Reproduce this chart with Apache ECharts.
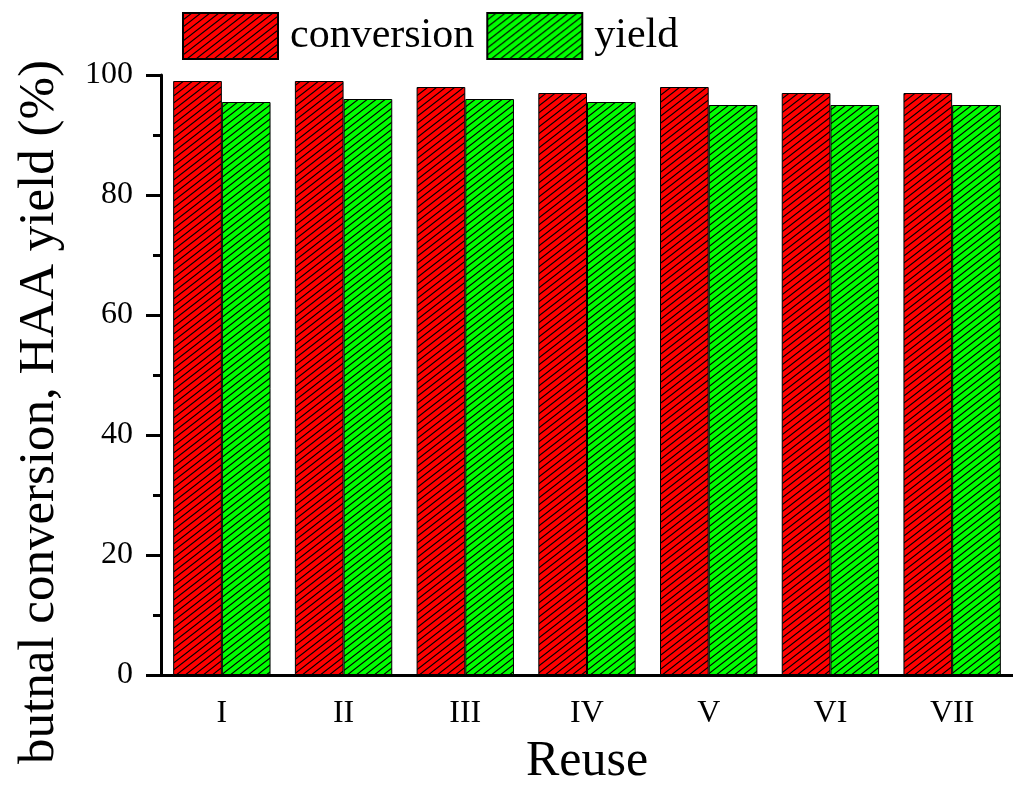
<!DOCTYPE html>
<html>
<head>
<meta charset="utf-8">
<style>
html,body{margin:0;padding:0;background:#fff;}
#chart{width:1013px;height:792px;}
</style>
<script src="https://cdn.jsdelivr.net/npm/echarts@6/dist/echarts.min.js"></script>
</head>
<body>
<div id="chart"></div>
<script>
const categories = ['I', 'II', 'III', 'IV', 'V', 'VI', 'VII'];
const conversion = [99, 99, 98, 97, 98, 97, 97];
const yieldVals = [95.5, 96, 96, 95.5, 95, 95, 95];
const seriesNames = ['conversion', 'yield'];

function hatch(color) {
  const w = 9, h = 7;
  const c = document.createElement('canvas');
  c.width = w; c.height = h;
  const ctx = c.getContext('2d');
  ctx.fillStyle = color;
  ctx.fillRect(0, 0, w, h);
  ctx.strokeStyle = '#000';
  ctx.lineWidth = 1.1;
  ctx.beginPath();
  ctx.moveTo(-w, 2 * h); ctx.lineTo(2 * w, -h);
  ctx.moveTo(-w, h); ctx.lineTo(w, -h);
  ctx.moveTo(0, 2 * h); ctx.lineTo(2 * w, 0);
  ctx.stroke();
  return c;
}

const font = '"Liberation Serif", "Times New Roman", serif';
const chart = echarts.init(document.getElementById('chart'));

const redPat = { image: hatch('#ff0000'), repeat: 'repeat' };
const greenPat = { image: hatch('#00ff00'), repeat: 'repeat' };

chart.setOption({
  animation: false,
  backgroundColor: '#fff',
  legend: {
    left: 182, top: 12, padding: 0,
    itemWidth: 95, itemHeight: 46, itemGap: 12,
    icon: 'rect',
    textStyle: { fontFamily: font, fontSize: 42, color: '#000', padding: [0, 0, 0, 7] },
    data: seriesNames
  },
  grid: { left: 161, right: -4, top: 75, bottom: 109, containLabel: false },
  xAxis: [
    {
      type: 'category', data: categories, position: 'bottom',
      axisLine: { lineStyle: { color: '#000', width: 3 } },
      axisTick: { alignWithLabel: true, length: 16, lineStyle: { color: '#000', width: 3 } },
      axisLabel: { fontFamily: font, fontSize: 32, color: '#000', margin: 23 },
      name: 'Reuse', nameLocation: 'middle', nameGap: 62,
      nameTextStyle: { fontFamily: font, fontSize: 50, color: '#000' },
      splitLine: { show: false }
    },
    {
      type: 'category', data: categories, position: 'bottom',
      axisLine: { show: false },
      axisTick: { length: 8, lineStyle: { color: '#000', width: 3 } },
      axisLabel: { show: false },
      splitLine: { show: false }
    }
  ],
  yAxis: {
    type: 'value', min: 0, max: 100, interval: 20,
    axisLine: { show: true, lineStyle: { color: '#000', width: 3 } },
    axisTick: { show: true, length: 15, lineStyle: { color: '#000', width: 3 } },
    minorTick: { show: true, splitNumber: 2, length: 8, lineStyle: { color: '#000', width: 3 } },
    axisLabel: { fontFamily: font, fontSize: 32, color: '#000', margin: 28 },
    splitLine: { show: false },
    name: 'butnal conversion, HAA yield (%)', nameLocation: 'middle', nameGap: 96,
    nameTextStyle: { fontFamily: font, fontSize: 51, color: '#000', padding: [0, 74, 0, 0] }
  },
  series: [
    {
      name: seriesNames[0], type: 'bar', data: conversion,
      barGap: '0%', barCategoryGap: '20%',
      itemStyle: { color: redPat, borderColor: '#000', borderWidth: 1 }
    },
    {
      name: seriesNames[1], type: 'bar', data: yieldVals,
      barGap: '0%', barCategoryGap: '20%',
      itemStyle: { color: greenPat, borderColor: '#000', borderWidth: 1 }
    }
  ]
});
</script>
</body>
</html>
